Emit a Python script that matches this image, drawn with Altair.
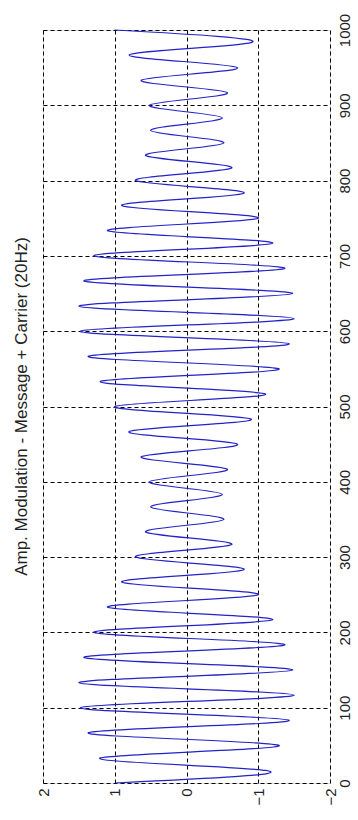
import altair as alt
import pandas as pd

# Peak/trough samples of the AM signal (time, amplitude)
times = [0, 16.7, 33.3, 50, 66.7, 83.3, 100, 116.7, 133.3, 150, 166.7, 183.3,
         200, 216.7, 233.3, 250, 266.7, 283.3, 300, 316.7, 333.3, 350, 366.7, 383.3,
         400, 416.7, 433.3, 450, 466.7, 483.3, 500, 516.7, 533.3, 550, 566.7, 583.3,
         600, 616.7, 633.3, 650, 666.7, 683.3, 700, 716.7, 733.3, 750, 766.7, 783.3,
         800, 816.7, 833.3, 850, 866.7, 883.3, 900, 916.7, 933.3, 950, 966.7, 983.3,
         1000]
amps = [1.00, -1.10, 1.20, -1.29, 1.37, -1.43, 1.48, -1.50, 1.50, -1.48, 1.43, -1.37,
        1.29, -1.20, 1.10, -1.00, 0.90, -0.80, 0.71, -0.63, 0.57, -0.52, 0.50, -0.50,
        0.52, -0.57, 0.63, -0.71, 0.80, -0.90, 1.00, -1.10, 1.20, -1.29, 1.37, -1.43,
        1.48, -1.50, 1.50, -1.48, 1.43, -1.37, 1.29, -1.20, 1.10, -1.00, 0.90, -0.80,
        0.71, -0.63, 0.57, -0.52, 0.50, -0.50, 0.52, -0.57, 0.63, -0.71, 0.80, -0.90,
        1.00]

amp_ticks = [-2, -1, 0, 1, 2]
time_ticks = [0, 100, 200, 300, 400, 500, 600, 700, 800, 900, 1000]
title_text = "Amp. Modulation - Message + Carrier (20Hz)"

df = pd.DataFrame({"t": times, "amp": amps})

FONT = "Liberation Sans"

chart = alt.Chart(df).mark_line(
    interpolate="natural", color="#2222c8", strokeWidth=1.2
).encode(
    x=alt.X("amp:Q",
            scale=alt.Scale(domain=[-2, 2], reverse=True, nice=False, zero=False),
            axis=alt.Axis(orient="bottom", values=amp_ticks, title=None, format="d",
                          labelAngle=270, labelAlign="right", labelBaseline="middle",
                          labelPadding=5, labelFontSize=15, labelFont=FONT,
                          labelColor="#222", labelFlush=False, labelOverlap=False,
                          ticks=False, domain=False,
                          grid=True, gridColor="black", gridDash=[4, 3],
                          gridOpacity=1, gridWidth=1)),
    y=alt.Y("t:Q",
            scale=alt.Scale(domain=[0, 1000], nice=False, zero=False),
            axis=alt.Axis(orient="right", values=time_ticks, title=None, format="d",
                          labelAngle=270, labelAlign="center", labelBaseline="top",
                          labelPadding=7, labelFontSize=15, labelFont=FONT,
                          labelColor="#222", labelFlush=False, labelOverlap=False,
                          ticks=False, domain=False,
                          grid=True, gridColor="black", gridDash=[4, 3],
                          gridOpacity=1, gridWidth=1)),
    order=alt.Order("t:Q"),
).properties(
    width=287,
    height=753,
    title=alt.TitleParams(text=title_text, orient="left", anchor="middle",
                          fontSize=17, font=FONT, fontWeight="normal",
                          color="#222", offset=5),
    autosize=alt.AutoSizeParams(type="none"),
    padding={"left": 43, "top": 30, "right": 28, "bottom": 37},
).configure_view(
    stroke="black", strokeWidth=1.5
).configure(background="white")

chart.save("out.html", embed_options={"renderer": "svg", "actions": False})
